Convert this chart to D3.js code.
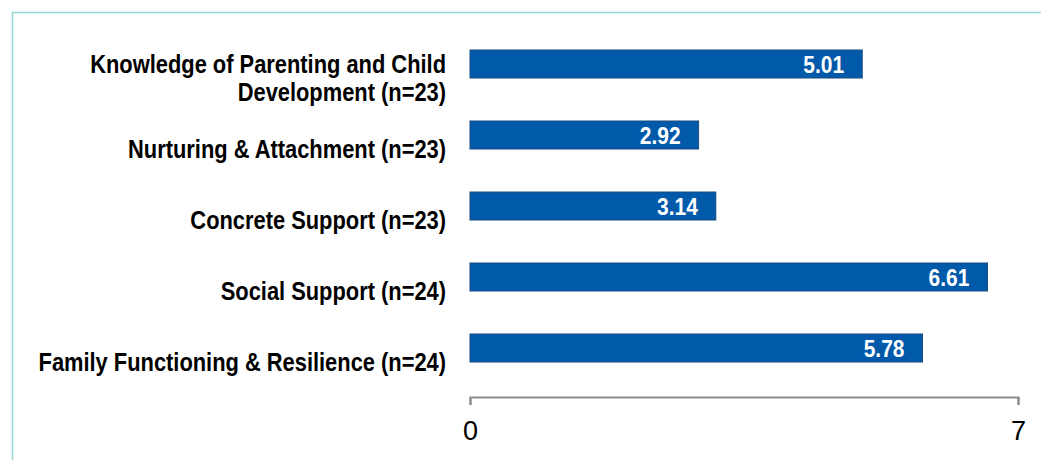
<!DOCTYPE html>
<html>
<head>
<meta charset="utf-8">
<script src="https://cdn.jsdelivr.net/npm/d3@7"></script>
<style>
  html, body { margin: 0; padding: 0; background: #fff; }
  svg { display: block; }
</style>
</head>
<body>
<svg id="chart" width="1041" height="460"></svg>
<script>
// Protective factor domains and their scores
const categories = [
  ["Knowledge of Parenting and Child", "Development (n=23)"],
  ["Nurturing & Attachment (n=23)"],
  ["Concrete Support (n=23)"],
  ["Social Support (n=24)"],
  ["Family Functioning & Resilience (n=24)"]
];
const values = [5.01, 2.92, 3.14, 6.61, 5.78];
const xTicks = [0, 7];

const svg = d3.select("#chart");
const W = 1041, H = 460;

// Frame lines along the top and left edges
svg.append("path")
  .attr("d", `M12.5,${H}V12.5H${W}`)
  .attr("fill", "none")
  .attr("stroke", "#8fd5d0")
  .attr("stroke-width", 1.5);

const x = d3.scaleLinear().domain([0, 7]).range([470, 1018]);
const y = d3.scalePoint().domain(d3.range(categories.length)).range([64, 348]);
const barH = 28;
const sans = "'Liberation Sans', Arial, sans-serif";
// condensed look: regular face squeezed horizontally
const squeeze = 0.875;

// Bars
svg.append("g").selectAll("rect")
  .data(values)
  .join("rect")
  .attr("x", x(0))
  .attr("y", (d, i) => y(i) - barH / 2)
  .attr("width", d => x(d) - x(0))
  .attr("height", barH)
  .attr("fill", "#005aa9")
  .attr("stroke", "#1b4a80")
  .attr("stroke-width", 1);

// Value labels inside the bar ends
svg.append("g").selectAll("g")
  .data(values)
  .join("g")
  .attr("transform", (d, i) => `translate(${x(d) - 18},${y(i)}) scale(${squeeze},1)`)
  .append("text")
  .attr("dy", "0.36em")
  .attr("text-anchor", "end")
  .attr("fill", "#fff")
  .attr("font-family", sans)
  .attr("font-weight", "bold")
  .attr("font-size", 24)
  .text(d => d);

// Category labels
const lineH = 29;
svg.append("g").selectAll("g")
  .data(categories)
  .join("g")
  .attr("transform", (d, i) => `translate(446,${y(i) + 14}) scale(${squeeze},1)`)
  .each(function (lines) {
    const t = d3.select(this).append("text")
      .attr("text-anchor", "end")
      .attr("fill", "#000")
      .attr("font-family", sans)
      .attr("font-weight", "bold")
      .attr("font-size", 25);
    lines.forEach((ln, k) => {
      t.append("tspan")
        .attr("x", 0)
        .attr("y", (k - (lines.length - 1) / 2) * lineH)
        .attr("dy", "0.36em")
        .text(ln);
    });
  });

// Value axis
const axis = d3.axisBottom(x)
  .tickValues(xTicks)
  .tickSize(8)
  .tickSizeOuter(8)
  .tickPadding(16)
  .tickFormat(d3.format("d"));
const gAxis = svg.append("g")
  .attr("transform", "translate(0,397)")
  .call(axis);
gAxis.select(".domain").attr("stroke", "#8c8c8c").attr("stroke-width", 2);
gAxis.selectAll(".tick line").attr("stroke", "#8c8c8c").attr("stroke-width", 2);
gAxis.selectAll(".tick text")
  .attr("fill", "#000")
  .attr("font-family", sans)
  .attr("font-size", 27);
</script>
</body>
</html>
